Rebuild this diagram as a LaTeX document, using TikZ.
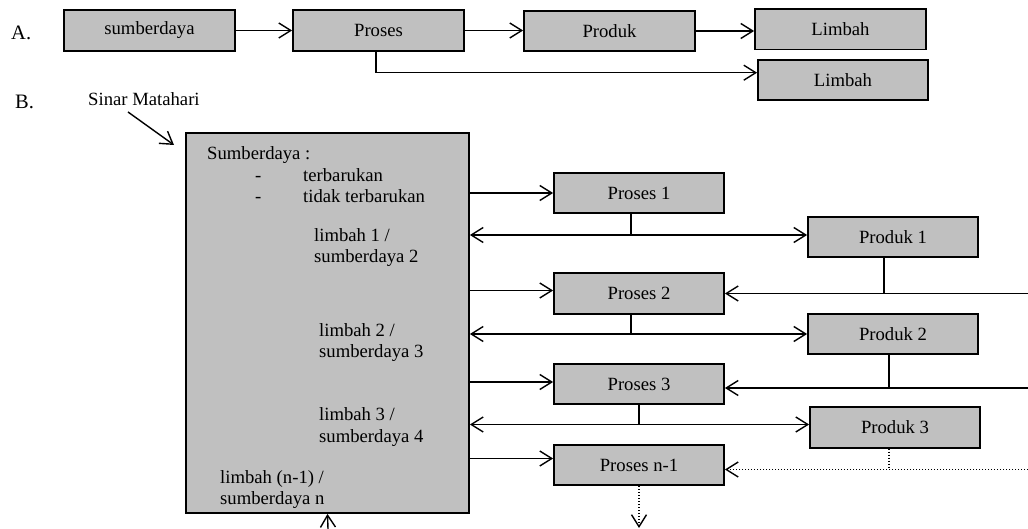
\documentclass[tikz,border=0pt]{standalone}
\usepackage{fontspec}
\setmainfont{Liberation Serif}
\usetikzlibrary{arrows.meta,calc}
\definecolor{boxgray}{RGB}{192,192,192}
\begin{document}
\begin{tikzpicture}[x=1pt,y=-1pt,
  every node/.style={font=\fontsize{18.67}{21.5}\selectfont},
  box/.style={draw, fill=boxgray, line width=1.8pt, inner sep=0pt, minimum width=170pt, minimum height=40.5pt},
  lbl/.style={anchor=base west, inner sep=0pt},
  bigl/.style={lbl, font=\fontsize{20.5}{24}\selectfont},
  ln/.style={line width=1.4pt},
  dln/.style={line width=1.4pt, dash pattern=on 1.3pt off 1.7pt},
  conn/.style={ln, -{Straight Barb[length=12pt,width=15pt]}},
  dconn/.style={ln, {Straight Barb[length=12pt,width=15pt]}-{Straight Barb[length=12pt,width=15pt]}},
  dotconn/.style={dln, -{Straight Barb[length=12pt,width=15pt]}}]
\useasboundingbox (0,0) rectangle (1028,529);

% ---------- A ----------
\node[bigl] (labA) at (11,40) {A.};
\node[box, minimum width=171pt, minimum height=41pt] (sumb) at (149.5,30.5) {sumberdaya};
\node[box, minimum width=171pt, minimum height=41pt] (proses) at (378.5,30.5) {Proses};
\node[box, minimum width=171pt] (produk) at (609.5,31) {Produk};
\node[box, minimum width=171pt] (lim1) at (840.5,29.3) {Limbah};
\node[box] (lim2) at (843,80) {Limbah};

\draw[conn] (sumb.east) -- (sumb.east -| proses.west);
\draw[conn] (proses.east) -- (proses.east -| produk.west);
\draw[conn] (produk.east) -- (produk.east -| lim1.west);
\coordinate (pa) at ([xshift=-2.5pt]proses.south);
\coordinate (la) at ([yshift=7.3pt]lim2.west);
\draw[conn] (pa) |- (la);

% ---------- B ----------
\node[bigl] (labB) at (15,109) {B.};
\node[lbl] (sun) at (88,106) {Sinar Matahari};
\coordinate (sunA) at (128,112);
\coordinate (sunB) at (174,145);
\draw[conn] (sunA) -- (sunB);

\node[box, minimum width=283pt, minimum height=380pt] (src) at (327.5,323) {};
\node[lbl] (t0) at (207,160) {Sumberdaya :};
\node[lbl] (d1) at (255,182) {-};
\node[lbl] (t1) at (303,182) {terbarukan};
\node[lbl] (d2) at (255,203) {-};
\node[lbl] (t2) at (303,203) {tidak terbarukan};
\node[lbl] (w1a) at (314,242) {limbah 1 /};
\node[lbl] (w1b) at (314,263) {sumberdaya 2};
\node[lbl] (w2a) at (319,336) {limbah 2 /};
\node[lbl] (w2b) at (319,357) {sumberdaya 3};
\node[lbl] (w3a) at (319,420) {limbah 3 /};
\node[lbl] (w3b) at (319,442) {sumberdaya 4};
\node[lbl] (wna) at (220,483) {limbah (n-1) /};
\node[lbl] (wnb) at (220,504) {sumberdaya n};

\node[box] (p1) at (639,193) {Proses 1};
\node[box] (pr1) at (893,237) {Produk 1};
\node[box] (p2) at (639,293.5) {Proses 2};
\node[box] (pr2) at (893,334) {Produk 2};
\node[box] (p3) at (639,384) {Proses 3};
\node[box] (pr3) at (895,427.5) {Produk 3};
\node[box] (pn) at (639,465) {Proses n-1};

% row 1
\draw[conn] (src.east |- p1.west) -- (p1.west);
\coordinate (j1) at ([yshift=2pt]pr1.west);
\draw[dconn] (src.east |- j1) -- (j1);
\coordinate (v1) at ([xshift=-8pt]p1.south);
\draw[ln] (v1) -- (v1 |- j1);

% row 2
\coordinate (e1) at (1028,293.5);
\draw[conn] (e1) -- (p2.east);
\coordinate (v2) at ([xshift=-9pt]pr1.south);
\draw[ln] (v2) -- (v2 |- p2.east);
\coordinate (i2) at ([yshift=3pt]p2.west);
\draw[conn] (src.east |- i2) -- (i2);
\draw[dconn] (src.east |- pr2.west) -- (pr2.west);
\coordinate (v3) at ([xshift=-8pt]p2.south);
\draw[ln] (v3) -- (v3 |- pr2.west);

% row 3
\coordinate (i3) at ([yshift=2pt]p3.west);
\draw[conn] (src.east |- i3) -- (i3);
\coordinate (k3) at ([yshift=-4pt]p3.east);
\coordinate (e2) at (1028,388);
\draw[conn] (e2) -- (k3);
\coordinate (v4) at ([xshift=-4pt]pr2.south);
\draw[ln] (v4) -- (v4 |- k3);
\coordinate (j3) at ([yshift=3pt]pr3.west);
\draw[dconn] (src.east |- j3) -- (j3);
\draw[ln] (p3.south) -- (p3.south |- j3);

% row 4
\coordinate (i4) at ([yshift=6.5pt]pn.west);
\draw[conn] (src.east |- i4) -- (i4);
\coordinate (k4) at ([yshift=-4.5pt]pn.east);
\coordinate (e3) at (1028,469.5);
\draw[dotconn] (e3) -- (k4);
\coordinate (v6) at ([xshift=-6pt]pr3.south);
\draw[dln] (v6) -- (v6 |- k4);
\coordinate (dn) at (639,528);
\draw[dotconn] (pn.south) -- (dn);
\coordinate (upB) at (328,529);
\draw[conn] (upB) -- (src.south);
\end{tikzpicture}
\end{document}
